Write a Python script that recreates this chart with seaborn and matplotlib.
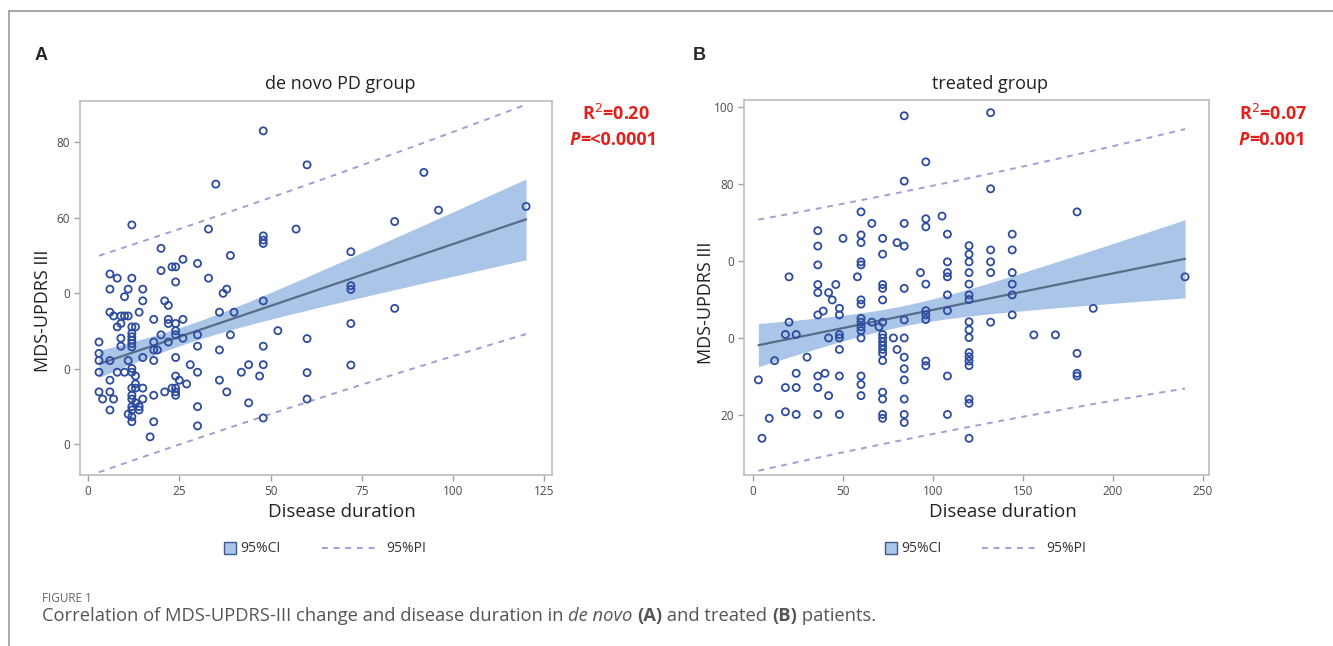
import numpy as np
import pandas as pd
import matplotlib
matplotlib.use("Agg")
import matplotlib.pyplot as plt
import seaborn as sns
from matplotlib.lines import Line2D

# ─────────────────────────────────────────────
# Figure 1 — MDS-UPDRS III change vs disease duration
# (A) de novo PD group, (B) treated group
# ─────────────────────────────────────────────

# values
novo_duration = [35, 12, 33, 48, 48, 48, 20, 39, 26, 23, 24, 30, 20, 6, 8, 12, 24, 33,
                 6, 11, 15, 38, 37, 10, 15, 21, 48, 22, 6, 14, 36, 40, 7, 9, 10, 11,
                 18, 22, 26, 9, 22, 24, 8, 12, 13, 24, 52, 12, 12, 12, 12, 12, 20, 24,
                 30, 39, 9, 26, 3, 18, 22, 9, 30, 48, 3, 18, 19, 36, 3, 6, 11, 15,
                 18, 24, 28, 44, 48, 3, 8, 10, 12, 12, 13, 30, 42, 47, 24, 25, 6, 36,
                 13, 27, 12, 13, 15, 3, 6, 21, 23, 24, 24, 38, 12, 18, 24, 4, 7, 12,
                 15, 13, 14, 30, 44, 6, 12, 12, 14, 11, 12, 18, 12, 30, 48, 17,
                 48, 60, 92, 96, 120, 84, 57, 72, 72, 72, 84, 60, 72, 60, 72, 60]
novo_updrs = [68.9, 58.1, 57.0, 55.2, 54.1, 53.2, 51.9, 50.0, 49.0, 47.0, 47.0, 47.9,
              46.0, 45.1, 44.0, 44.0, 43.0, 44.0, 41.1, 41.1, 41.1, 41.1, 40.0, 39.1,
              38.0, 38.0, 38.0, 36.8, 35.0, 35.0, 35.0, 35.0, 34.0, 34.0, 34.0, 34.0,
              33.1, 33.1, 33.1, 32.0, 32.0, 32.0, 31.1, 31.1, 31.1, 30.1, 30.1, 29.4,
              28.5, 27.6, 26.7, 25.8, 29.0, 29.0, 29.0, 29.0, 28.1, 28.1, 27.1, 27.1,
              27.1, 26.0, 26.0, 26.0, 24.1, 25.0, 25.0, 25.0, 22.2, 22.2, 22.2, 23.0,
              22.2, 23.0, 21.1, 21.1, 21.1, 19.1, 19.1, 19.1, 20.1, 19.1, 18.1, 19.1,
              19.1, 18.1, 18.1, 17.0, 17.0, 17.0, 16.0, 16.0, 14.9, 14.9, 14.9, 13.9,
              13.9, 13.9, 14.9, 14.9, 13.9, 13.9, 13.0, 13.0, 13.0, 12.0, 12.0, 12.0,
              12.0, 11.0, 10.0, 10.0, 11.0, 9.1, 10.0, 9.1, 9.1, 8.0, 7.3, 6.0, 6.0,
              4.9, 7.0, 2.0,
              83.0, 74.0, 72.0, 62.0, 63.0, 59.0, 57.0, 51.0, 42.0, 41.0, 36.0, 28.0,
              32.0, 19.0, 21.0, 12.0]

treated_duration = [84, 84, 60, 66, 84, 36, 60, 50, 60, 72, 36, 80, 84, 72, 60, 60, 36,
                    20, 58, 36, 46, 72, 72, 84, 36, 42, 44, 72, 60, 60, 48, 39, 36, 48,
                    20, 60, 60, 60, 60, 66, 72, 84, 70, 18, 24, 48, 48, 42, 60, 72, 72,
                    72, 72, 72, 72, 72, 78, 84, 48, 80, 30, 84, 12, 84, 24, 36, 40, 48,
                    60, 60, 84, 3, 18, 24, 36, 42, 60, 72, 72, 84, 18, 24, 36, 48, 72,
                    72, 84, 84, 9, 5,
                    132, 96, 132, 96, 96, 105, 108, 144, 120, 120, 132, 144, 120, 108,
                    132, 93, 108, 108, 120, 132, 144, 96, 120, 144, 108, 120, 120, 144,
                    96, 96, 96, 108, 144, 120, 120, 120, 132, 156, 168, 120, 120, 120,
                    120, 96, 96, 108, 120, 120, 108, 120,
                    180, 240, 189, 180, 180, 180]
treated_updrs = [97.8, 80.8, 72.8, 69.8, 69.8, 67.9, 66.8, 65.9, 64.8, 65.9, 63.9, 64.8,
                 63.9, 61.8, 59.8, 59.0, 59.0, 55.9, 55.9, 53.9, 53.9, 53.9, 52.9, 52.9,
                 51.8, 51.8, 49.9, 49.9, 49.9, 48.8, 47.7, 47.0, 46.0, 46.0, 44.1, 45.1,
                 44.1, 42.9, 41.9, 44.1, 44.1, 44.7, 42.9, 40.9, 40.9, 40.9, 40.0, 40.0,
                 40.0, 40.9, 40.0, 39.0, 38.0, 37.0, 36.0, 34.1, 40.0, 40.0, 37.0, 37.0,
                 35.0, 35.0, 34.1, 32.0, 30.8, 30.1, 30.8, 30.1, 30.1, 27.9, 29.1, 29.1,
                 27.1, 27.1, 27.1, 25.0, 25.0, 25.9, 24.1, 24.1, 20.8, 20.1, 20.1, 20.1,
                 20.1, 19.1, 20.1, 18.0, 19.1, 13.9,
                 98.6, 85.8, 78.8, 71.0, 68.9, 71.7, 67.0, 67.0, 64.0, 61.8, 62.9, 62.9,
                 59.8, 59.8, 59.8, 57.0, 57.0, 55.9, 57.0, 57.0, 57.0, 54.0, 54.0, 54.0,
                 51.2, 51.2, 50.0, 51.2, 47.1, 46.0, 44.8, 47.1, 46.0, 44.2, 42.1, 40.1,
                 44.1, 40.8, 40.8, 36.2, 35.1, 34.0, 32.8, 34.0, 32.8, 30.1, 24.1, 23.0,
                 20.1, 13.9,
                 72.8, 55.9, 47.7, 36.0, 30.8, 30.1]

novo_xticks = [0, 25, 50, 75, 100, 125]
novo_yticks = [0, 20, 40, 60, 80]
novo_yticklabels = ["0", "0", "0", "60", "80"]
treated_xticks = [0, 50, 100, 150, 200, 250]
treated_yticks = [20, 40, 60, 80, 100]
treated_yticklabels = ["20", "0", "0", "80", "100"]

POINT_COLOR = "#2D4B9F"
FIT_COLOR   = "#5A6B86"
CI_COLOR    = "#AAC5E7"
PI_COLOR    = "#A49DD2"
STAT_RED    = "#E3211C"
GREY_TXT    = "#4A4A4A"

sns.set_style("white")
plt.rcParams["font.family"] = ["Open Sans", "DejaVu Sans"]

W, H = 1333, 646
fig = plt.figure(figsize=(W / 100, H / 100), dpi=100)


def px(x, y):
    # figure pixel (from top-left) -> figure fraction
    return x / W, 1 - y / H


def fit_bands(x, y, t=1.976):
    x = np.asarray(x, float)
    y = np.asarray(y, float)
    n = len(x)
    slope, icpt = np.polyfit(x, y, 1)
    resid = y - (icpt + slope * x)
    s = np.sqrt((resid ** 2).sum() / (n - 2))
    sxx = ((x - x.mean()) ** 2).sum()
    grid = np.linspace(x.min(), x.max(), 120)
    yhat = icpt + slope * grid
    se_fit = s * np.sqrt(1 / n + (grid - x.mean()) ** 2 / sxx)
    se_pred = s * np.sqrt(1 + 1 / n + (grid - x.mean()) ** 2 / sxx)
    return pd.DataFrame({"x": grid, "fit": yhat,
                         "ci_lo": yhat - t * se_fit, "ci_hi": yhat + t * se_fit,
                         "pi_lo": yhat - t * se_pred, "pi_hi": yhat + t * se_pred})


def draw_panel(rect, dur, score, xticks, yticks, yticklabels, xlim, ylim):
    ax = fig.add_axes(rect)
    band = fit_bands(dur, score)
    pts = pd.DataFrame({"duration": dur, "updrs": score})

    ax.fill_between(band["x"], band["ci_lo"], band["ci_hi"],
                    color=CI_COLOR, linewidth=0, zorder=1)
    for col in ["pi_lo", "pi_hi"]:
        sns.lineplot(data=band, x="x", y=col, ax=ax, color=PI_COLOR,
                     linewidth=1.4, dashes=False, zorder=2).lines[-1].set_dashes((3, 3))
    sns.lineplot(data=band, x="x", y="fit", ax=ax, color=FIT_COLOR,
                 linewidth=1.6, zorder=3)
    sns.scatterplot(data=pts, x="duration", y="updrs", ax=ax, s=26,
                    facecolor="none", edgecolor=POINT_COLOR, linewidth=1.3,
                    zorder=4)

    ax.set_xlim(*xlim)
    ax.set_ylim(*ylim)
    ax.set_xticks(xticks)
    ax.set_yticks(yticks)
    ax.set_yticklabels(yticklabels)
    ax.set_xlabel("")
    ax.set_ylabel("MDS-UPDRS III", fontsize=13, color="#222222")
    ax.tick_params(axis="both", which="both", direction="out", length=4,
                   width=1, color="#A0A0A0", labelsize=8.5, labelcolor=GREY_TXT,
                   bottom=True, left=True, pad=3)
    for sp in ax.spines.values():
        sp.set_color("#BDBDBD")
        sp.set_linewidth(1.2)
    return ax


ax_a = draw_panel([80 / W, 1 - 475 / H, 472 / W, 374 / H],
                  novo_duration, novo_updrs, novo_xticks, novo_yticks,
                  novo_yticklabels, (-2.2, 127.1), (-8.1, 90.9))
ax_b = draw_panel([744 / W, 1 - 475 / H, 465 / W, 375 / H],
                  treated_duration, treated_updrs, treated_xticks, treated_yticks,
                  treated_yticklabels, (-5, 253.3), (4.35, 101.9))
ax_a.yaxis.set_label_coords(-0.059, 0.44)
ax_b.yaxis.set_label_coords(-0.062, 0.46)

# panel letters, titles, x labels
for lx, letter in [(35, "A"), (693, "B")]:
    fig.text(*px(lx, 55), letter, fontsize=13, fontweight="bold",
             family=["Liberation Sans", "DejaVu Sans"], va="center", ha="left")
fig.text(*px(340, 84), "de novo PD group", fontsize=13, ha="center", va="center",
         color="#222222")
fig.text(*px(990, 84), "treated group", fontsize=13, ha="center", va="center",
         color="#222222")
fig.text(*px(342, 512), "Disease duration", fontsize=13.5, ha="center", va="center",
         color="#222222")
fig.text(*px(1003, 512), "Disease duration", fontsize=13.5, ha="center", va="center",
         color="#222222")

# R2 / P annotations
for (rx, ry, r2, ptxt) in [(582, 114, "0.20", "=<0.0001"), (1239, 114, "0.07", "=0.001")]:
    fig.text(*px(rx, ry), "R$^{2}$=" + r2, fontsize=13, fontweight="bold",
             color=STAT_RED, ha="left", va="center")
    p = fig.text(*px(rx - 12 if ptxt.startswith("=<") else rx, ry + 26), "P",
                 fontsize=13, fontweight="bold", style="italic",
                 color=STAT_RED, ha="left", va="center")
    plt.annotate(ptxt, xy=(1, 0), xycoords=p, va="bottom", ha="left",
                 fontsize=13, fontweight="bold", color=STAT_RED,
                 annotation_clip=False)

# legends (CI patch and PI dashed line)
for cx, lx in [(228, 322), (889, 982)]:
    ci_handle = Line2D([], [], marker="s", linestyle="none", markersize=8,
                       markerfacecolor=CI_COLOR, markeredgecolor="#3C5A8A",
                       markeredgewidth=1)
    fig.legend(handles=[ci_handle], labels=["95%CI"], loc="center left",
               bbox_to_anchor=px(cx - 4, 549), frameon=False,
               handlelength=0.9, handletextpad=0.3, fontsize=10,
               borderpad=0, borderaxespad=0, labelcolor="#333333")
    pi_handle = Line2D([], [], color=PI_COLOR, linewidth=1.4, dashes=(3, 3))
    fig.legend(handles=[pi_handle], labels=["95%PI"], loc="center left",
               bbox_to_anchor=px(lx, 549), frameon=False,
               handlelength=4.2, handletextpad=0.4, fontsize=10,
               borderpad=0, borderaxespad=0, labelcolor="#333333")

# caption
fig.text(*px(42, 598), "FIGURE 1", fontsize=8.5, color="#666666", va="center")
c1 = fig.text(*px(42, 616), "Correlation of MDS-UPDRS-III change and disease duration in ",
              fontsize=13.2, color="#555555", va="center")
prev = c1
for piece, kw in [("de novo", dict(style="italic")), (" ", {}),
                  ("(A)", dict(fontweight="bold")), (" and treated ", {}),
                  ("(B)", dict(fontweight="bold")), (" patients.", {})]:
    prev = plt.annotate(piece, xy=(1, 0), xycoords=prev, va="bottom", ha="left",
                        fontsize=13.2, color="#555555", annotation_clip=False, **kw)

# frame lines around the figure panel
fig.add_artist(Line2D([9 / W, 1], [1 - 10.5 / H, 1 - 10.5 / H], color="#9A9A9A",
                      linewidth=1.2))
fig.add_artist(Line2D([9 / W, 9 / W], [0, 1 - 10.5 / H], color="#9A9A9A",
                      linewidth=1.2))

fig.savefig("out.png", dpi=100)
plt.close(fig)
